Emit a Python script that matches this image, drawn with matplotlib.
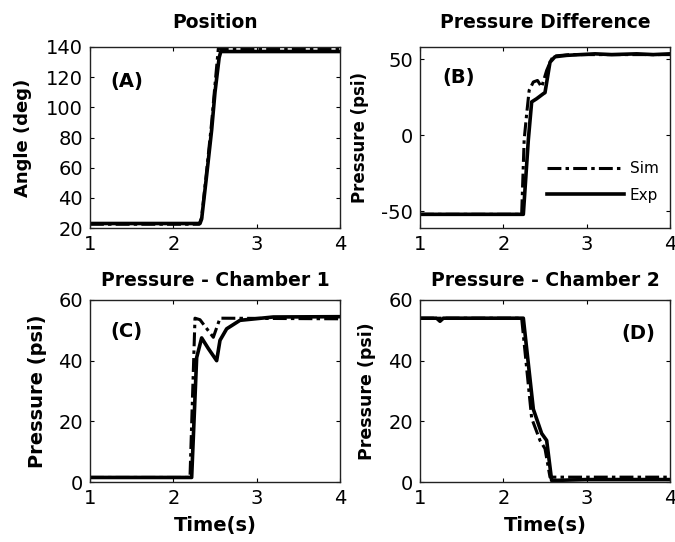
import matplotlib
matplotlib.use("Agg")
import matplotlib.pyplot as plt

plt.rcParams['font.family'] = 'DejaVu Sans'
plt.rcParams['lines.scale_dashes'] = False
plt.rcParams['axes.unicode_minus'] = False

# (A) Position
ta_sim = [1.0, 2.31, 2.34, 2.40, 2.46, 2.50, 2.54, 4.0]
pos_sim = [22.5, 22.5, 27, 58, 90, 115, 139, 139]
ta_exp = [1.0, 2.32, 2.34, 2.40, 2.46, 2.50, 2.55, 2.57, 4.0]
pos_exp = [23, 23, 26, 55, 85, 110, 133, 137, 137]

# (B) Pressure difference
tb_sim = [1.0, 2.22, 2.25, 2.28, 2.31, 2.36, 2.41, 2.46, 2.52, 2.57, 2.60, 2.8, 3.2, 3.6, 4.0]
dp_sim = [-52, -52, -3, 14, 29.5, 35, 36, 31.7, 42.6, 49, 52, 53, 53, 53, 53]
tb_exp = [1.0, 2.24, 2.30, 2.34, 2.40, 2.48, 2.50, 2.56, 2.62, 2.76, 3.1, 3.3, 3.6, 3.8, 4.0]
dp_exp = [-52, -52, -3, 21.9, 24, 27.3, 28, 48, 51.6, 52.5, 53.5, 53, 53.5, 53, 53.5]

# (C) Pressure chamber 1
tc_sim = [1.0, 2.20, 2.26, 2.32, 2.48, 2.56, 4.0]
p1_sim = [1.5, 1.5, 54, 53.5, 47.7, 54, 53.8]
tc_exp = [1.0, 2.22, 2.28, 2.34, 2.42, 2.52, 2.56, 2.64, 2.80, 3.2, 4.0]
p1_exp = [1.5, 1.5, 41, 47.5, 44, 40, 46.7, 50.5, 53.3, 54.4, 54.5]

# (D) Pressure chamber 2
td_sim = [1.0, 2.22, 2.34, 2.44, 2.50, 2.56, 4.0]
p2_sim = [54, 54, 21, 13.7, 11, 1.6, 1.6]
td_exp = [1.0, 1.20, 1.24, 1.28, 2.24, 2.36, 2.46, 2.52, 2.58, 3.0, 4.0]
p2_exp = [54, 54, 53, 54, 54, 24, 16, 13.7, 0.5, 0.8, 0.8]

panels = [
    dict(pos=[0.1333, 0.5793, 0.3704, 0.334], title='Position', tpad=14,
         ylabel='Angle (deg)', ylsize=13, ylpad=10, ylim=(20, 140),
         yticks=[20, 40, 60, 80, 100, 120, 140], tag='(A)', tagxy=(1.25, 117),
         sim=(ta_sim, pos_sim), exp=(ta_exp, pos_exp), xlabel=None),
    dict(pos=[0.6222, 0.5793, 0.3704, 0.334], title='Pressure Difference', tpad=14,
         ylabel='Pressure (psi)', ylsize=12, ylpad=9, ylim=(-61, 58),
         yticks=[-50, 0, 50], tag='(B)', tagxy=(1.27, 38),
         sim=(tb_sim, dp_sim), exp=(tb_exp, dp_exp), xlabel=None),
    dict(pos=[0.1333, 0.1107, 0.3704, 0.3358], title='Pressure - Chamber 1', tpad=10,
         ylabel='Pressure (psi)', ylsize=14, ylpad=8, ylim=(0, 60),
         yticks=[0, 20, 40, 60], tag='(C)', tagxy=(1.25, 49.5),
         sim=(tc_sim, p1_sim), exp=(tc_exp, p1_exp), xlabel='Time(s)'),
    dict(pos=[0.6222, 0.1107, 0.3704, 0.3358], title='Pressure - Chamber 2', tpad=10,
         ylabel='Pressure (psi)', ylsize=12.5, ylpad=9, ylim=(0, 60),
         yticks=[0, 20, 40, 60], tag='(D)', tagxy=(3.42, 49),
         sim=(td_sim, p2_sim), exp=(td_exp, p2_exp), xlabel='Time(s)'),
]

fig = plt.figure(figsize=(6.75, 5.42), dpi=100)

for i, p in enumerate(panels):
    ax = fig.add_axes(p['pos'])
    ax.plot(*p['sim'], color='black', lw=2.2, dashes=(10, 3, 2.5, 3), label='Sim')
    ax.plot(*p['exp'], color='black', lw=2.6, label='Exp')
    ax.set_xlim(1, 4)
    ax.set_xticks([1, 2, 3, 4])
    ax.set_ylim(*p['ylim'])
    ax.set_yticks(p['yticks'])
    ax.tick_params(direction='in', length=3, width=0.8, top=True, right=True,
                   labelsize=14, pad=5)
    for s in ax.spines.values():
        s.set_linewidth(1.0)
        s.set_color('#222222')
    ax.set_title(p['title'], fontsize=13.5, fontweight='bold', pad=p['tpad'])
    ax.set_ylabel(p['ylabel'], fontsize=p['ylsize'], fontweight='bold', labelpad=p['ylpad'])
    if p['xlabel']:
        ax.set_xlabel(p['xlabel'], fontsize=14, fontweight='bold', labelpad=6)
    ax.text(p['tagxy'][0], p['tagxy'][1], p['tag'], fontsize=14, fontweight='bold',
            va='center', ha='left')
    if i == 1:
        ax.legend(loc='lower right', bbox_to_anchor=(0.955, 0.14), frameon=False,
                  fontsize=11, handlelength=5.0, handletextpad=0.4,
                  labelspacing=0.75, borderpad=0, borderaxespad=0)

fig.savefig('out.png', dpi=100)
